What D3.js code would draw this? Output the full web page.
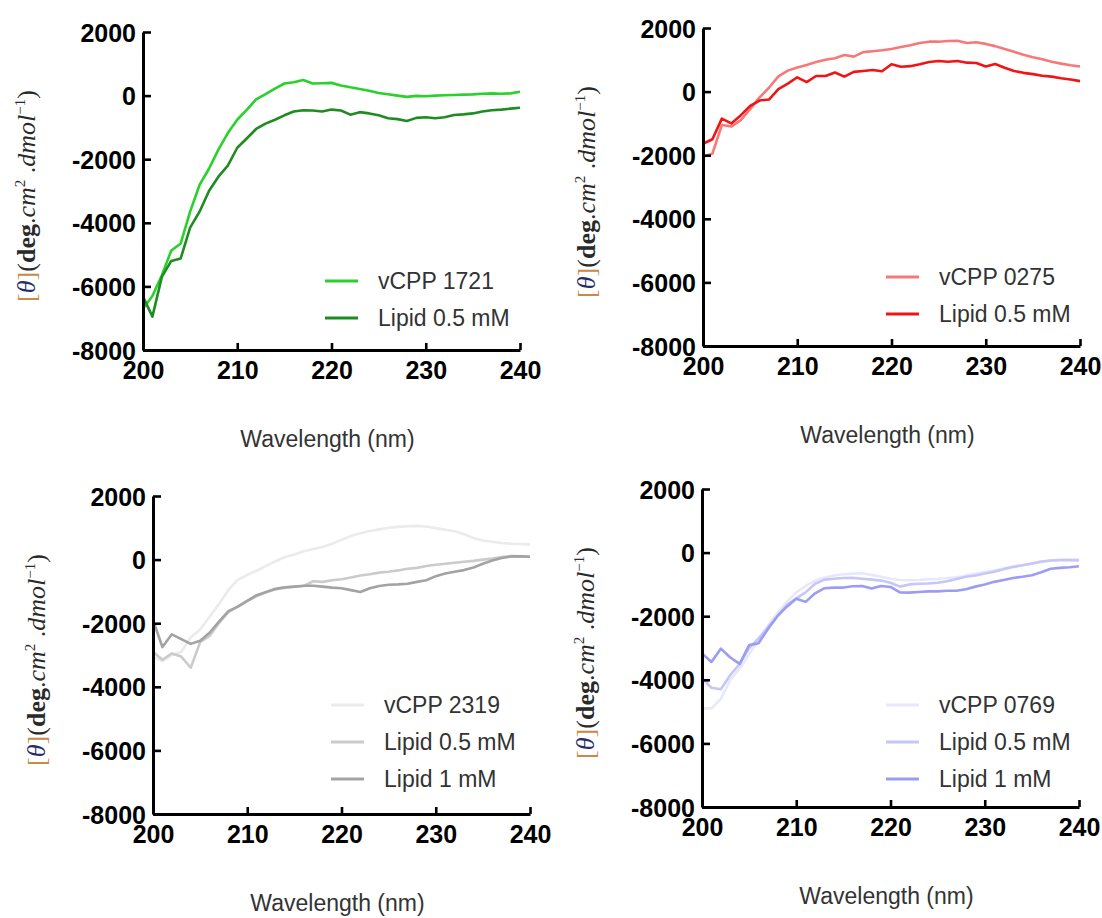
<!DOCTYPE html>
<head>
    <meta charset="utf-8">
    <title>CD spectra</title>
    <script src="https://d3js.org/d3.v7.min.js"></script>
    <style>
        body { margin: 0; background: #fff; }
        .tick text { font-family: 'Liberation Sans', Arial, sans-serif; font-weight: bold; font-size: 25px; fill: #000; }
        .lab { font-family: 'Liberation Sans', Arial, sans-serif; font-size: 23px; fill: #333; }
        .ytitle { font-family: 'Liberation Serif', 'Times New Roman', serif; font-size: 26px; fill: #2a2a2a; }
    </style>
</head>
<body>
<script>
//DATA
var wavelengths = [200,201,202,203,204,205,206,207,208,209,210,211,212,213,214,215,216,217,218,219,220,
                   221,222,223,224,225,226,227,228,229,230,231,232,233,234,235,236,237,238,239,240];
var yTicks = [2000, 0, -2000, -4000, -6000, -8000];
var xTicks = [200, 210, 220, 230, 240];

// vCPP 1721
var v1721 = [-6700,-6300,-5650,-4870,-4650,-3650,-2810,-2300,-1700,-1180,-760,-450,-120,50,220,380,420,490,380,390,400,
             320,260,210,150,80,40,0,-40,-10,-20,0,10,20,30,40,60,70,60,70,120];
var v1721_l05 = [-6320,-6950,-5700,-5200,-5120,-4150,-3650,-3000,-2550,-2200,-1640,-1350,-1050,-880,-760,-620,-500,-460,-470,-500,-440,
                 -470,-600,-520,-560,-620,-710,-740,-800,-700,-680,-710,-680,-610,-590,-560,-500,-460,-440,-410,-380];

// vCPP 0275
var v0275 = [-2050,-1950,-1050,-1100,-900,-550,-180,120,480,660,760,840,930,1000,1050,1150,1100,1240,1270,1300,1340,
             1400,1460,1530,1570,1570,1590,1600,1530,1550,1500,1430,1340,1250,1160,1080,1020,940,880,830,790];
var v0275_l05 = [-1640,-1500,-850,-1000,-750,-450,-280,-250,80,250,450,300,490,490,600,470,620,650,680,640,860,
                 780,800,860,930,960,940,960,910,900,790,870,750,650,590,550,500,470,420,380,330];

// vCPP 2319
var v2319 = [-3050,-3200,-3000,-2900,-2450,-2200,-1800,-1400,-950,-640,-480,-350,-200,-50,80,160,260,330,400,500,620,
             740,830,900,950,1000,1030,1050,1060,1040,990,940,890,800,680,600,560,520,500,490,480];
var v2319_l05 = [-2900,-3150,-2950,-3050,-3400,-2600,-2400,-2000,-1650,-1480,-1300,-1150,-1030,-930,-890,-850,-830,-680,-700,-650,-620,
                 -560,-500,-460,-410,-380,-340,-290,-260,-200,-160,-130,-100,-70,-40,0,30,80,110,100,90];
var v2319_l1 = [-1900,-2750,-2350,-2500,-2650,-2550,-2300,-1950,-1620,-1480,-1300,-1120,-1020,-920,-870,-850,-820,-820,-850,-880,-900,
                -960,-1020,-900,-830,-790,-780,-760,-700,-650,-520,-440,-380,-330,-250,-130,-30,50,100,100,90];

// vCPP 0769
var v0769 = [-4900,-4900,-4600,-4000,-3650,-3200,-2750,-2300,-1900,-1550,-1250,-1050,-880,-780,-720,-680,-660,-650,-700,-760,-820,
             -860,-870,-860,-840,-830,-800,-780,-720,-660,-610,-560,-500,-440,-400,-350,-300,-250,-220,-210,-210];
var v0769_l05 = [-3950,-4250,-4300,-3850,-3500,-3000,-2700,-2350,-2000,-1650,-1440,-1250,-980,-850,-820,-800,-790,-820,-850,-880,-950,
                 -1070,-1000,-980,-970,-950,-900,-830,-760,-720,-660,-600,-520,-450,-400,-340,-280,-250,-240,-240,-250];
var v0769_l1 = [-3170,-3440,-3020,-3300,-3500,-2910,-2850,-2400,-2000,-1700,-1450,-1550,-1280,-1120,-1100,-1100,-1060,-1050,-1130,-1050,-1080,
                -1250,-1260,-1240,-1220,-1220,-1200,-1200,-1150,-1070,-1000,-920,-860,-800,-760,-710,-620,-510,-480,-460,-430];

//LAYOUT
var W = 377, H = 318;
var panels = [
    { left: 143, top: 32, legY: 249, legX: 182, series: [
        { name: 'vCPP 1721', values: v1721, color: '#2ad12a' },
        { name: 'Lipid 0.5 mM', values: v1721_l05, color: '#1f8c22' } ] },
    { left: 703, top: 28, legY: 249, legX: 183, series: [
        { name: 'vCPP 0275', values: v0275, color: '#f77878' },
        { name: 'Lipid 0.5 mM', values: v0275_l05, color: '#f01414' } ] },
    { left: 153, top: 496, legY: 209, legX: 178, series: [
        { name: 'vCPP 2319', values: v2319, color: '#ebebeb' },
        { name: 'Lipid 0.5 mM', values: v2319_l05, color: '#cbcbcb' },
        { name: 'Lipid 1 mM', values: v2319_l1, color: '#a3a3a3' } ] },
    { left: 702, top: 489, legY: 216, legX: 184, series: [
        { name: 'vCPP 0769', values: v0769, color: '#e8e8fc' },
        { name: 'Lipid 0.5 mM', values: v0769_l05, color: '#c6c6f8' },
        { name: 'Lipid 1 mM', values: v0769_l1, color: '#9c9cf3' } ] }
];

var svg = d3.select('body').append('svg')
    .attr('width', 1102)
    .attr('height', 918);

var x = d3.scaleLinear().domain([200, 240]).range([0, W]);
var y = d3.scaleLinear().domain([-8000, 2000]).range([H, 0]);

var line = d3.line()
    .x((d, i) => x(wavelengths[i]))
    .y(d => y(d));

panels.forEach(function(p) {
    var g = svg.append('g').attr('transform', 'translate(' + p.left + ',' + p.top + ')');

    // curves
    g.selectAll('.curve')
        .data(p.series).enter()
        .append('path')
        .attr('class', 'curve')
        .attr('d', d => line(d.values))
        .attr('fill', 'none')
        .attr('stroke', d => d.color)
        .attr('stroke-width', 2.6)
        .attr('stroke-linejoin', 'round');

    // axes (plain hyphen minus, like the original)
    var ya = g.append('g')
        .call(d3.axisLeft(y).tickValues(yTicks).tickSize(-8).tickSizeOuter(0).tickPadding(7).tickFormat(d => String(d)));
    var xa = g.append('g')
        .attr('transform', 'translate(0,' + H + ')')
        .call(d3.axisBottom(x).tickValues(xTicks).tickSize(-7).tickSizeOuter(0).tickPadding(11));
    [ya, xa].forEach(function(a) {
        a.select('.domain').attr('stroke', '#000').attr('stroke-width', 3);
        a.selectAll('.tick line').attr('stroke', '#000').attr('stroke-width', 2.6);
    });
    ya.selectAll('.tick text').attr('dy', '0.36em');

    // legend
    var leg = g.selectAll('.leg')
        .data(p.series).enter()
        .append('g')
        .attr('class', 'leg')
        .attr('transform', (d, i) => 'translate(' + p.legX + ',' + (p.legY + i * 37) + ')');
    leg.append('line')
        .attr('x1', 0).attr('x2', 33)
        .attr('stroke', d => d.color)
        .attr('stroke-width', 3.2);
    leg.append('text')
        .attr('class', 'lab')
        .attr('x', 53).attr('dy', '0.36em')
        .text(d => d.name);

    // x title
    g.append('text')
        .attr('class', 'lab')
        .attr('x', W / 2 - 4)
        .attr('y', H + 97)
        .attr('text-anchor', 'middle')
        .text('Wavelength (nm)');

    // y title
    var yt = g.append('text')
        .attr('class', 'ytitle')
        .attr('transform', 'translate(-108,' + (H / 2 + 5) + ') rotate(-90)')
        .attr('text-anchor', 'middle');
    yt.append('tspan').attr('fill', '#c98a45').text('[');
    yt.append('tspan').attr('fill', '#25306a').attr('font-style', 'italic').text('\u03b8');
    yt.append('tspan').attr('fill', '#c98a45').text(']');
    yt.append('tspan').text('(');
    yt.append('tspan').attr('font-weight', 'bold').text('deg');
    yt.append('tspan').text('.');
    yt.append('tspan').attr('font-style', 'italic').text('cm');
    yt.append('tspan').attr('font-size', '15px').attr('dy', -10).text('2');
    yt.append('tspan').attr('dy', 10).text(' .');
    yt.append('tspan').attr('font-style', 'italic').text('dmol');
    yt.append('tspan').attr('font-size', '15px').attr('dy', -10).text('\u22121');
    yt.append('tspan').attr('dy', 10).text(')');
});
</script>
</body>
